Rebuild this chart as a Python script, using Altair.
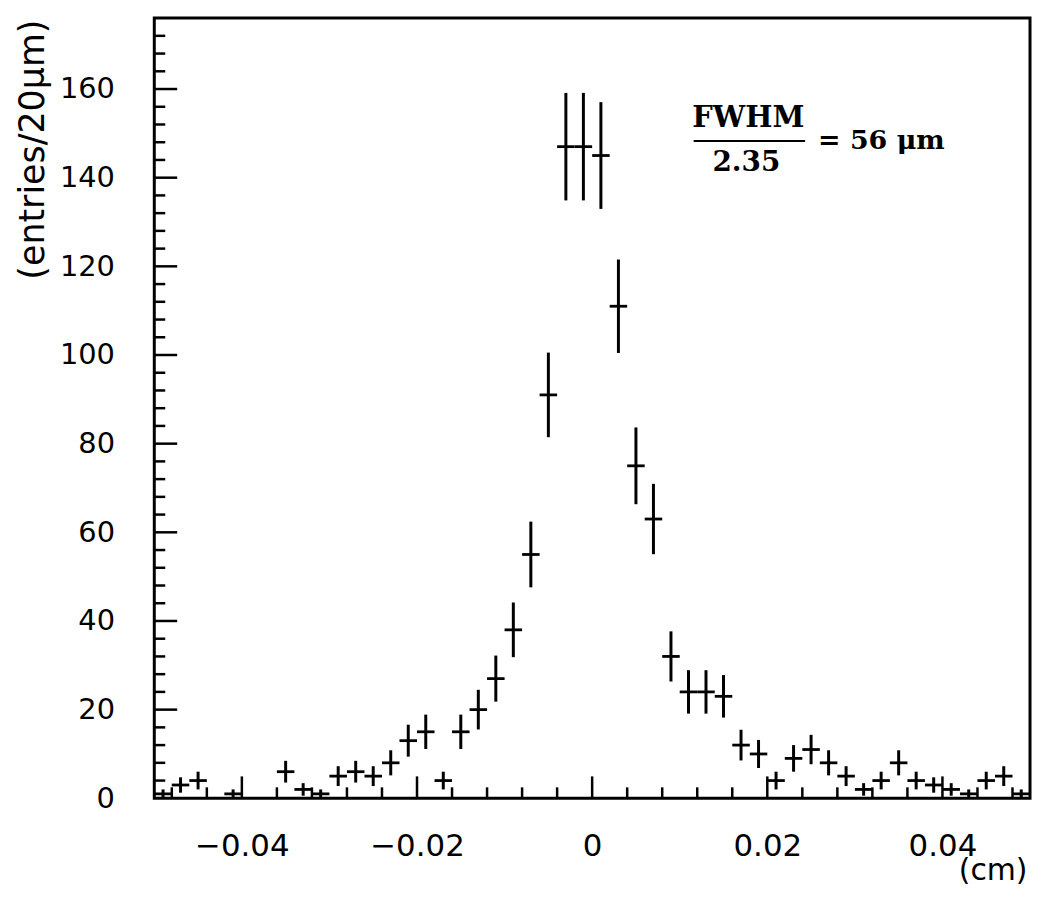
import math
import altair as alt
import pandas as pd

# ---- data ----
X_MIN, X_MAX = -0.05, 0.05
BIN_WIDTH = 0.002          # 20 um bins, in cm
Y_MAX = 176

counts = [1, 3, 4, 0, 1, 0, 0, 6, 2, 1,
          5, 6, 5, 8, 13, 15, 4, 15, 20, 27,
          38, 55, 91, 147, 147, 145, 111, 75, 63, 32,
          24, 24, 23, 12, 10, 4, 9, 11, 8, 5,
          2, 4, 8, 4, 3, 2, 1, 4, 5, 1]

x_major = [-0.04, -0.02, 0, 0.02, 0.04]
x_minor = [-0.048, -0.044, -0.036, -0.032, -0.028, -0.024, -0.016, -0.012, -0.008, -0.004,
           0.004, 0.008, 0.012, 0.016, 0.024, 0.028, 0.032, 0.036, 0.044, 0.048]
y_labels = [0, 20, 40, 60, 80, 100, 120, 140, 160]
y_major = [20, 40, 60, 80, 100, 120, 140, 160]
y_minor = [4, 8, 12, 16, 24, 28, 32, 36, 44, 48, 52, 56, 64, 68, 72, 76, 84, 88, 92, 96,
           104, 108, 112, 116, 124, 128, 132, 136, 144, 148, 152, 156, 164, 168, 172]

X_TITLE = "(cm)"
Y_TITLE = "(entries/20\u03bcm)"

W, H = 880, 784

rows = []
for i, n in enumerate(counts):
    if n <= 0:
        continue
    c = X_MIN + BIN_WIDTH * (i + 0.5)
    e = math.sqrt(n)
    rows.append(dict(x=c, lo=c - BIN_WIDTH / 2, hi=c + BIN_WIDTH / 2,
                     n=n, nlo=max(n - e, 0), nhi=n + e))
df = pd.DataFrame(rows)

xs = alt.Scale(domain=[X_MIN, X_MAX], nice=False, zero=False)
ys = alt.Scale(domain=[0, Y_MAX], nice=False, zero=False)

x_axis = alt.Axis(values=x_major, format="~g", ticks=False, domain=False, grid=False,
                  labelFont="DejaVu Sans", labelFontSize=31, labelColor="black",
                  labelPadding=33, labelFlush=False,
                  titleFont="DejaVu Sans", titleFontSize=30, titleFontWeight="normal",
                  titleColor="black", titleX=877, titleY=73, titleAlign="right",
                  titleBaseline="middle", titleAnchor="end")
y_axis = alt.Axis(values=y_labels, format="d", ticks=False, domain=False, grid=False,
                  labelFont="DejaVu Sans", labelFontSize=29, labelColor="black",
                  labelPadding=40, labelFlush=False,
                  titleFont="DejaVu Sans", titleFontSize=35, titleFontWeight="normal",
                  titleColor="black", titleX=-122, titleY=1, titleAngle=270,
                  titleAlign="right", titleBaseline="middle")

X = lambda f: alt.X(f, scale=xs, axis=x_axis, title=X_TITLE)
Y = lambda f: alt.Y(f, scale=ys, axis=y_axis, title=Y_TITLE)

base = alt.Chart(df)
vbars = base.mark_rule(color="black", strokeWidth=3).encode(
    x=X("x:Q"), y=Y("nlo:Q"), y2="nhi:Q")
hbars = base.mark_rule(color="black", strokeWidth=2.8).encode(
    x=X("lo:Q"), x2="hi:Q", y=Y("n:Q"))

xmaj = alt.Chart(pd.DataFrame({"v": x_major})).mark_rule(color="black", strokeWidth=2.5).encode(
    x=X("v:Q"), y=alt.value(H), y2=alt.value(H - 22))
xmin = alt.Chart(pd.DataFrame({"v": x_minor})).mark_rule(color="black", strokeWidth=2.5).encode(
    x=X("v:Q"), y=alt.value(H), y2=alt.value(H - 11))
ymaj = alt.Chart(pd.DataFrame({"v": y_major})).mark_rule(color="black", strokeWidth=2.5).encode(
    y=Y("v:Q"), x=alt.value(0), x2=alt.value(23))
ymin = alt.Chart(pd.DataFrame({"v": y_minor})).mark_rule(color="black", strokeWidth=2.5).encode(
    y=Y("v:Q"), x=alt.value(0), x2=alt.value(11))

# ---- annotation: FWHM / 2.35 = 56 um ----
serif = dict(font="DejaVu Serif", fontWeight="bold", color="black", baseline="alphabetic")
t_num = alt.Chart(pd.DataFrame({"t": ["FWHM"]})).mark_text(fontSize=29, align="center", **serif).encode(
    text="t:N", x=alt.value(597), y=alt.value(109))
t_den = alt.Chart(pd.DataFrame({"t": ["2.35"]})).mark_text(fontSize=28, align="center", **serif).encode(
    text="t:N", x=alt.value(595), y=alt.value(154))
t_eq = alt.Chart(pd.DataFrame({"t": ["= 56 \u03bcm"]})).mark_text(fontSize=27, align="left", **serif).encode(
    text="t:N", x=alt.value(667), y=alt.value(132))
frac = alt.Chart(pd.DataFrame({"t": [0]})).mark_rule(color="black", strokeWidth=2.2).encode(
    x=alt.value(542), x2=alt.value(654), y=alt.value(123.5))

chart = alt.layer(vbars, hbars, xmaj, xmin, ymaj, ymin, frac, t_num, t_den, t_eq).properties(
    width=W, height=H,
    autosize=alt.AutoSizeParams(type="none"),
    padding={"left": 147, "top": 8, "right": 3, "bottom": 89},
    background="white",
).configure_view(stroke="black", strokeWidth=3)

chart.save("out.html", embed_options={"renderer": "svg", "actions": False})
